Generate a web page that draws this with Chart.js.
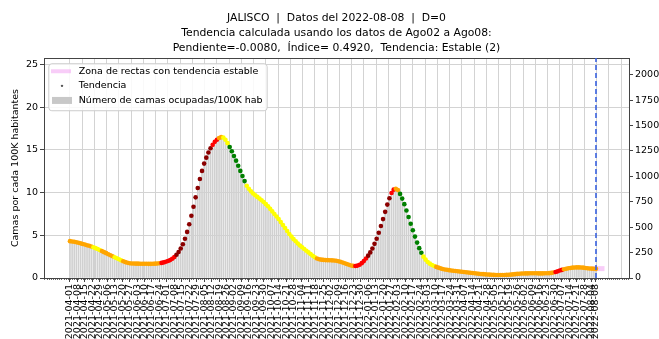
<!DOCTYPE html>
<html>
<head>
<meta charset="utf-8">
<script src="https://cdn.jsdelivr.net/npm/chart.js@4"></script>
<style>
  html, body { margin: 0; padding: 0; background: #fff; }
</style>
</head>
<body>
<canvas id="grafica" width="659" height="339"></canvas>
<script>
// --- Datos ---
const inicio = "2021-04-01";      // primer dato
const pasoDias = 2;               // un valor cada 2 dias
const fechaDatos = "2022-08-08";  // linea azul

// camas ocupadas por cada 100K hab, cada 2 dias desde 2021-04-01
const camas100k = [
  4.32, 4.28, 4.24, 4.19, 4.13, 4.06, 3.99, 3.92, 3.84, 3.77,
  3.69, 3.60, 3.50, 3.39, 3.27, 3.15, 3.03, 2.91, 2.79, 2.67,
  2.55, 2.43, 2.31, 2.19, 2.07, 1.96, 1.86, 1.78, 1.73, 1.70,
  1.69, 1.68, 1.68, 1.67, 1.67, 1.67, 1.67, 1.66, 1.66, 1.67,
  1.68, 1.70, 1.73, 1.77, 1.83, 1.90, 1.99, 2.10, 2.25, 2.45,
  2.72, 3.05, 3.45, 3.95, 4.60, 5.40, 6.30, 7.30, 8.35, 9.45,
  10.55, 11.60, 12.55, 13.40, 14.10, 14.70, 15.20, 15.60, 15.95, 16.20,
  16.40, 16.50, 16.45, 16.20, 15.80, 15.35, 14.85, 14.30, 13.75, 13.15,
  12.55, 11.95, 11.35, 10.80, 10.45, 10.15, 9.90, 9.70, 9.50, 9.30,
  9.10, 8.90, 8.65, 8.40, 8.10, 7.80, 7.50, 7.20, 6.90, 6.55,
  6.20, 5.85, 5.50, 5.15, 4.85, 4.55, 4.30, 4.05, 3.80, 3.60,
  3.40, 3.20, 3.00, 2.80, 2.60, 2.42, 2.28, 2.20, 2.15, 2.12,
  2.10, 2.09, 2.08, 2.07, 2.05, 2.02, 1.97, 1.90, 1.82, 1.73,
  1.64, 1.55, 1.47, 1.42, 1.40, 1.45, 1.56, 1.74, 1.98, 2.28,
  2.62, 3.00, 3.45, 4.00, 4.60, 5.30, 6.10, 6.90, 7.75, 8.60,
  9.35, 9.95, 10.35, 10.45, 10.30, 9.85, 9.30, 8.65, 7.90, 7.15,
  6.35, 5.60, 4.85, 4.15, 3.50, 2.95, 2.50, 2.15, 1.88, 1.68,
  1.52, 1.40, 1.30, 1.21, 1.13, 1.06, 1.00, 0.96, 0.92, 0.88,
  0.85, 0.82, 0.79, 0.76, 0.73, 0.70, 0.67, 0.64, 0.61, 0.58,
  0.55, 0.52, 0.49, 0.47, 0.45, 0.43, 0.41, 0.40, 0.38, 0.37,
  0.36, 0.35, 0.35, 0.35, 0.36, 0.37, 0.38, 0.40, 0.42, 0.45,
  0.48, 0.50, 0.52, 0.53, 0.54, 0.54, 0.55, 0.55, 0.55, 0.55,
  0.54, 0.54, 0.54, 0.55, 0.56, 0.57, 0.60, 0.64, 0.70, 0.78,
  0.87, 0.95, 1.03, 1.09, 1.14, 1.18, 1.21, 1.23, 1.24, 1.24,
  1.23, 1.21, 1.18, 1.15, 1.12, 1.10, 1.08, 1.07
];

// tramos de tendencia: dia (desde inicio) donde empieza cada uno y su clave
const tramoDesde = [0, 22, 30, 41, 50, 85, 99, 133, 140, 144, 150, 166, 232, 268, 279, 301, 305, 309, 332, 343, 456, 464];
const tramoClave = ["o", "y", "o", "y", "o", "r", "d", "r", "o", "y", "g", "y", "o", "r", "d", "r", "o", "g", "y", "o", "r", "o"];
const colorClave = { o: "#ffa500", y: "#ffff00", r: "#ff0000", d: "#8b0000", g: "#008000" };

// zona de rectas con tendencia estable
const zonaDias = [490, 502];
const zonaValores = [1.10, 1.10];

const etiquetasX = [
  "2021-04-01", "2021-04-08", "2021-04-15", "2021-04-22", "2021-04-29", "2021-05-06", "2021-05-13", "2021-05-20",
  "2021-05-27", "2021-06-03", "2021-06-10", "2021-06-17", "2021-06-24", "2021-07-01", "2021-07-08", "2021-07-15",
  "2021-07-22", "2021-07-29", "2021-08-05", "2021-08-12", "2021-08-19", "2021-08-26", "2021-09-02", "2021-09-09",
  "2021-09-16", "2021-09-23", "2021-09-30", "2021-10-07", "2021-10-14", "2021-10-21", "2021-10-28", "2021-11-04",
  "2021-11-11", "2021-11-18", "2021-11-25", "2021-12-02", "2021-12-09", "2021-12-16", "2021-12-23", "2021-12-30",
  "2022-01-06", "2022-01-13", "2022-01-20", "2022-01-27", "2022-02-03", "2022-02-10", "2022-02-17", "2022-02-24",
  "2022-03-03", "2022-03-10", "2022-03-17", "2022-03-24", "2022-03-31", "2022-04-07", "2022-04-14", "2022-04-21",
  "2022-04-28", "2022-05-05", "2022-05-12", "2022-05-19", "2022-05-26", "2022-06-02", "2022-06-09", "2022-06-16",
  "2022-06-23", "2022-06-30", "2022-07-07", "2022-07-14", "2022-07-21", "2022-07-28", "2022-08-04", "2022-08-08"
];
const ticksIzq = [0, 5, 10, 15, 20, 25];
const ticksDer = [0, 250, 500, 750, 1000, 1250, 1500, 1750, 2000];

// limites de los ejes
const xMin = -24.4, xMax = 525;
const yMax = 25.77, y2Max = 2163;
const rejillaPaso = 11.5;

const titulo = [
  "JALISCO  |  Datos del 2022-08-08  |  D=0",
  "Tendencia calculada usando los datos de Ago02 a Ago08:",
  "Pendiente=-0.0080,  Índice= 0.4920,  Tendencia: Estable (2)"
];

// --- Utilidades ---
const FUENTE = "'DejaVu Sans', sans-serif";
const TAM = 9.5;
const MARCO = "#444";
const REJILLA = "#d3d3d3";
const GRIS_BARRA = "#d0d0d0";
const ROSA = "rgba(238,130,238,0.4)";

function diaDe(fecha) {
    return Math.round((Date.parse(fecha) - Date.parse(inicio)) / 86400000);
}
function claveDelDia(d) {
    let k = 0;
    tramoDesde.forEach((desde, i) => { if (d >= desde) k = i; });
    return tramoClave[k];
}

const dias = camas100k.map((v, i) => i * pasoDias);
const puntos = dias.map((d, i) => ({ x: d, y: camas100k[i] }));
const coloresPuntos = dias.map(d => colorClave[claveDelDia(d)]);
const etiquetaPorDia = {};
etiquetasX.forEach(s => { etiquetaPorDia[diaDe(s)] = s; });

// --- Plugins ---
// caja de la leyenda (dentro del area) + marcadores
const leyendaCaja = {
    id: "leyendaCaja",
    afterLayout(chart) {
        const lg = chart.legend, ca = chart.chartArea;
        lg.left = ca.left + 2.4;
        lg.top = ca.top + 3.6;
        lg.right = lg.left + lg.width;
        lg.bottom = lg.top + lg.height;
    },
    afterDraw(chart) {
        const lg = chart.legend;
        const hb = lg.legendHitBoxes;
        if (!hb || !hb.length) return;
        const ctx = chart.ctx;
        const izq = hb[0].left - 2.7;
        const arr = hb[0].top - 3;
        const der = Math.max(...hb.map(h => h.left + h.width)) + 4;
        const aba = hb[hb.length - 1].top + hb[hb.length - 1].height + 4.8;
        ctx.save();
        ctx.beginPath();
        ctx.roundRect(izq + 0.5, arr + 0.5, der - izq, aba - arr, 3);
        ctx.fillStyle = "rgba(255,255,255,0.85)";
        ctx.fill();
        ctx.strokeStyle = "#cccccc";
        ctx.lineWidth = 1;
        ctx.stroke();
        ctx.restore();
        lg.draw();

        ctx.save();
        const fila = (i) => hb[i].top + hb[i].height / 2;
        // zona
        ctx.strokeStyle = ROSA;
        ctx.lineWidth = 4;
        ctx.beginPath();
        ctx.moveTo(hb[0].left, fila(0));
        ctx.lineTo(hb[0].left + 20, fila(0));
        ctx.stroke();
        // tendencia
        ctx.fillStyle = "#555";
        ctx.beginPath();
        ctx.arc(hb[1].left + 11, fila(1), 1.2, 0, Math.PI * 2);
        ctx.fill();
        // barras
        ctx.fillStyle = "#c8c8c8";
        ctx.fillRect(hb[2].left + 1, fila(2) - 3.5, 20, 7);
        ctx.restore();
    }
};

// marcas menores en el eje x
const marcasMenores = {
    id: "marcasMenores",
    afterDraw(chart) {
        const sx = chart.scales.x;
        const y0 = chart.chartArea.bottom;
        const ctx = chart.ctx;
        ctx.save();
        ctx.strokeStyle = MARCO;
        ctx.lineWidth = 0.8;
        ctx.beginPath();
        for (let d = Math.ceil(sx.min); d <= sx.max; d += 2) {
            const px = Math.round(sx.getPixelForValue(d)) + 0.5;
            ctx.moveTo(px, y0);
            ctx.lineTo(px, y0 + 2);
        }
        ctx.stroke();
        ctx.restore();
    }
};

// --- Chart.js ---
const ctx = document.getElementById("grafica").getContext("2d");
const grafica = new Chart(ctx, {
    data: {
        datasets: [
            {
                type: "line",
                label: "fecha",
                data: [{ x: diaDe(fechaDatos), y: 0 }, { x: diaDe(fechaDatos), y: yMax }],
                borderColor: "#3a62e0",
                borderWidth: 1.6,
                borderDash: [5, 3],
                pointRadius: 0,
                order: 0
            },
            {
                type: "scatter",
                label: "Tendencia",
                data: puntos,
                pointBackgroundColor: coloresPuntos,
                pointBorderWidth: 0,
                pointRadius: 2.3,
                order: 1
            },
            {
                type: "line",
                label: "Zona de rectas con tendencia estable",
                data: zonaDias.map((d, i) => ({ x: d, y: zonaValores[i] })),
                borderColor: ROSA,
                borderWidth: 5,
                pointRadius: 0,
                order: 2
            },
            {
                type: "bar",
                label: "Número de camas ocupadas/100K hab",
                data: puntos,
                backgroundColor: GRIS_BARRA,
                barThickness: 1,
                order: 3
            }
        ]
    },
    options: {
        responsive: false,
        devicePixelRatio: 1,
        animation: false,
        layout: { padding: 0 },
        plugins: {
            title: {
                display: true,
                text: titulo,
                color: "#000",
                fullSize: false,
                font: { family: FUENTE, size: 10.8, weight: "normal", lineHeight: 1.39 },
                padding: { top: 11, bottom: 2 }
            },
            legend: {
                position: "chartArea",
                align: "start",
                labels: {
                    color: "#000",
                    font: { family: FUENTE, size: TAM },
                    boxWidth: 23,
                    boxHeight: 10,
                    padding: 4.6,
                    generateLabels: () => [
                        "Zona de rectas con tendencia estable",
                        "Tendencia",
                        "Número de camas ocupadas/100K hab"
                    ].map(t => ({ text: t, fillStyle: "rgba(0,0,0,0)", strokeStyle: "rgba(0,0,0,0)", lineWidth: 0, hidden: false }))
                }
            },
            tooltip: { enabled: false }
        },
        scales: {
            x: {
                type: "linear",
                position: "bottom",
                offset: false,
                min: xMin,
                max: xMax,
                afterBuildTicks: (s) => { s.ticks = etiquetasX.map(e => ({ value: diaDe(e) })); },
                afterFit: (s) => { s.height = 61; },
                ticks: {
                    autoSkip: false,
                    minRotation: 90,
                    maxRotation: 90,
                    padding: 2,
                    color: "#000",
                    font: { family: FUENTE, size: TAM },
                    callback: (v) => etiquetaPorDia[v] || ""
                },
                grid: { offset: false, drawOnChartArea: false, tickLength: 4, tickColor: MARCO },
                border: { color: MARCO, width: 1 }
            },
            xRejilla: {
                type: "linear",
                position: "top",
                offset: false,
                min: xMin,
                max: xMax,
                afterBuildTicks: (s) => {
                    const t = [];
                    for (let d = 0; d <= xMax; d += rejillaPaso) t.push({ value: d });
                    s.ticks = t;
                },
                afterFit: (s) => { s.height = 0; },
                ticks: { display: false },
                grid: { offset: false, color: REJILLA, lineWidth: 1, drawTicks: false },
                border: { color: MARCO, width: 1 }
            },
            y: {
                type: "linear",
                position: "left",
                min: 0,
                max: yMax,
                afterBuildTicks: (s) => { s.ticks = ticksIzq.map(v => ({ value: v })); },
                afterFit: (s) => { s.width = 44; },
                ticks: { color: "#000", padding: 2, font: { family: FUENTE, size: TAM } },
                grid: { color: REJILLA, lineWidth: 1, tickLength: 4, tickColor: MARCO },
                border: { color: MARCO, width: 1 },
                title: {
                    display: true,
                    text: "Camas por cada 100K habitantes",
                    color: "#000",
                    font: { family: FUENTE, size: TAM },
                    padding: { top: 10, bottom: 0 }
                }
            },
            y2: {
                type: "linear",
                position: "right",
                min: 0,
                max: y2Max,
                afterBuildTicks: (s) => { s.ticks = ticksDer.map(v => ({ value: v })); },
                afterFit: (s) => { s.width = 30; },
                ticks: { color: "#000", padding: 2, font: { family: FUENTE, size: TAM }, callback: (v) => String(v) },
                grid: { drawOnChartArea: false, tickLength: 4, tickColor: MARCO },
                border: { color: MARCO, width: 1 }
            }
        }
    },
    plugins: [leyendaCaja, marcasMenores]
});
</script>
</body>
</html>
